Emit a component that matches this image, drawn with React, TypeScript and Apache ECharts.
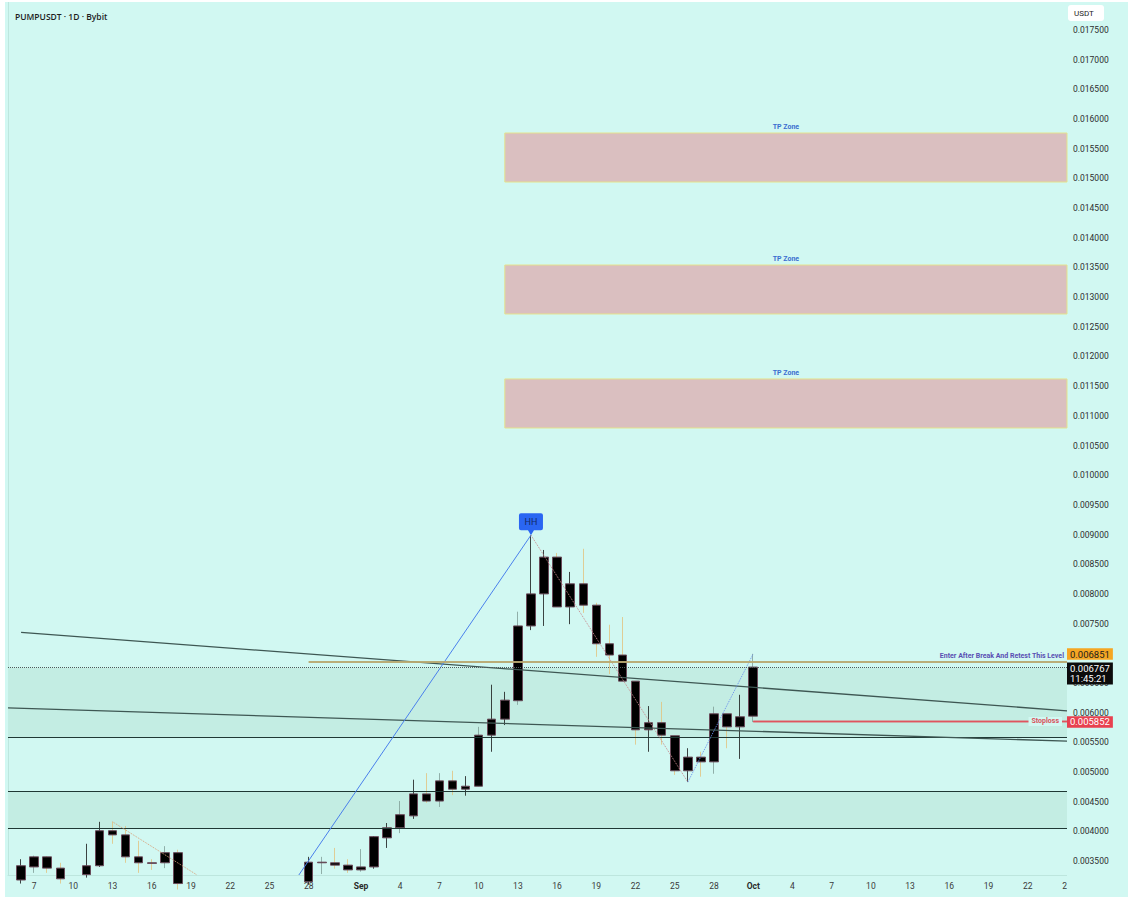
import React, { useEffect, useRef } from "react";
import * as echarts from "echarts";

// ---------- data ----------
const chartTitle = "PUMPUSDT · 1D · Bybit";
const firstDay = "2025-08-05"; // index 0
const dayCount = 58; // Aug 5 .. Oct 1

const opens = [
  0.00322, 0.00318, 0.0034, 0.00357, 0.00338, 0.0032, 0.00327, 0.00342, 0.00401, 0.00394,
  0.00357, 0.00347, 0.00347, 0.00364, 0.00312, 0.003, 0.00286, 0.00293, 0.00281, 0.00289,
  0.00279, 0.00268, 0.00276, 0.00315, 0.00348, 0.00347, 0.00343, 0.00335, 0.0034, 0.00389,
  0.00406, 0.00426, 0.00463, 0.00451, 0.00485, 0.00471, 0.00476, 0.00562, 0.00589, 0.0062,
  0.00746, 0.008, 0.00862, 0.00778, 0.00817, 0.00781, 0.00716, 0.00697, 0.00653, 0.00571,
  0.00583, 0.00561, 0.00502, 0.00525, 0.00517, 0.00598, 0.00576, 0.00594,
];
const closes = [
  0.00318, 0.00342, 0.00357, 0.00338, 0.0032, 0.00316, 0.00342, 0.00401, 0.00394, 0.00357,
  0.00347, 0.00346, 0.00364, 0.00312, 0.003, 0.00286, 0.00293, 0.00281, 0.00289, 0.00279,
  0.00268, 0.00276, 0.00315, 0.00348, 0.00347, 0.00343, 0.00335, 0.0034, 0.00391, 0.00406,
  0.00428, 0.00463, 0.00451, 0.00485, 0.00471, 0.00476, 0.00562, 0.00589, 0.00621, 0.00746,
  0.008, 0.00862, 0.00778, 0.00817, 0.00781, 0.00716, 0.00697, 0.00653, 0.00571, 0.00583,
  0.00562, 0.00502, 0.00525, 0.00517, 0.00598, 0.00576, 0.00593, 0.006767,
];
const lows = [
  0.00306, 0.00312, 0.0033, 0.0033, 0.00312, 0.003, 0.00322, 0.0034, 0.00379, 0.00347,
  0.0033, 0.00335, 0.00338, 0.00302, 0.0029, 0.00278, 0.0028, 0.00272, 0.00276, 0.0027,
  0.00254, 0.00262, 0.0027, 0.0031, 0.00328, 0.00337, 0.0033, 0.00332, 0.00337, 0.00372,
  0.00397, 0.00421, 0.00448, 0.00441, 0.00461, 0.0046, 0.00476, 0.00534, 0.00579, 0.00613,
  0.00739, 0.00746, 0.00778, 0.00749, 0.00768, 0.00694, 0.00665, 0.00653, 0.00546, 0.00534,
  0.00546, 0.00495, 0.00483, 0.00492, 0.00497, 0.0054, 0.00522, 0.00584,
];
const highs = [
  0.00342, 0.00353, 0.00359, 0.00358, 0.00347, 0.00322, 0.00379, 0.00416, 0.00416, 0.00409,
  0.00384, 0.00353, 0.00375, 0.00369, 0.00318, 0.00306, 0.00299, 0.00297, 0.00295, 0.00292,
  0.00285, 0.00282, 0.0032, 0.00357, 0.00357, 0.00372, 0.00353, 0.0037, 0.00392, 0.00414,
  0.00451, 0.00487, 0.00498, 0.00498, 0.00502, 0.00493, 0.00576, 0.00647, 0.00635, 0.0077,
  0.00899, 0.00874, 0.00869, 0.00837, 0.00876, 0.00785, 0.00748, 0.00761, 0.00653, 0.00611,
  0.00618, 0.00561, 0.0054, 0.00534, 0.0061, 0.00598, 0.0063, 0.00699,
];
// wick tone per candle: k = black, y = amber, g = grey
const wickTones = [
  "g", "k", "g", "y", "y", "y", "k", "k", "y", "y",
  "y", "y", "g", "y", "y", "y", "g", "y", "g", "y",
  "y", "g", "k", "k", "g", "y", "y", "g", "k", "k",
  "g", "k", "y", "g", "y", "k", "g", "k", "k", "g",
  "k", "k", "y", "k", "y", "y", "y", "y", "y", "k",
  "y", "y", "k", "y", "g", "y", "k", "g",
];

// x-axis tick labels (day index from Aug 5)
const tickDays = [2, 5, 8, 11, 14, 17, 20, 23, 27, 30, 33, 36, 39, 42, 45, 48, 51, 54, 57, 60, 63, 66, 69, 72, 75, 78, 81];
const tickTexts = ["7", "10", "13", "16", "19", "22", "25", "28", "Sep", "4", "7", "10", "13", "16", "19", "22", "25", "28", "Oct", "4", "7", "10", "13", "16", "19", "22", "25"];

// take-profit zones
const tpZoneStart = [38, 38, 38];
const tpZoneTop = [0.015765, 0.013541, 0.011621];
const tpZoneBottom = [0.014939, 0.012716, 0.010795];

// shaded support zones
const supportTop = [0.00675, 0.00468];
const supportBottom = [0.00559, 0.004057];
// horizontal black levels
const levels = [0.00559, 0.00468, 0.004057];

// price levels
const entryLevel = 0.006851;
const entryStartDay = 23;
const lastPrice = 0.006767;
const countdown = "11:45:21";
const stopLoss = 0.005852;
const stopStartDay = 57;

// trend lines [x1, y1, x2, y2]
const trendA = [1, 0.00735, 81, 0.00603];
const trendB = [0, 0.00608, 81, 0.00552];
const blueRay = [20, 0.00254, 40, 0.00899];
const dotAmber = [8, 0.00416, 16, 0.00305];
const dotPink = [40, 0.00899, 52, 0.00483];
const dotBlue = [52, 0.00483, 57, 0.00699];
const hhPoint = [40, 0.00899];

// ---------- layout / style ----------
const BG = "#d1f8f2";
const Y_MIN = 0.003264;
const Y_MAX = 0.017972;
const X_MIN = 0;
const X_MAX = 81;
const WICK: Record<string, string> = { k: "#141414", y: "#e2c27c", g: "#7f9c95" };
const FONT = "Roboto, 'Liberation Sans', sans-serif";
const ENTRY_STYLE = { color: "#b9a870", width: 1.5, type: "solid" };
const STOP_STYLE = { color: "#e0535e", width: 1.3, type: "solid" };

function clipSeg(seg: number[]): number[][] {
  const [x1, y1, x2, y2] = seg;
  const clipY = (xa: number, ya: number, xb: number, yb: number) => {
    if (ya < Y_MIN && yb !== ya) {
      const t = (Y_MIN - ya) / (yb - ya);
      return [xa + t * (xb - xa), Y_MIN];
    }
    return [xa, ya];
  };
  return [clipY(x1, y1, x2, y2), clipY(x2, y2, x1, y1)];
}

function segLine(seg: number[], color: string, width: number, type: string = "solid") {
  const [a, b] = clipSeg(seg);
  return [{ coord: a, lineStyle: { color, width, type } }, { coord: b }];
}

function hLine(v: number, x0: number, lineStyle: any, label?: any) {
  return [
    { coord: [x0, v], lineStyle, label: label || { show: false } },
    { coord: [X_MAX, v] },
  ];
}

function tag(text: string, bg: string, fg: string, dy: number) {
  return {
    show: true,
    position: "end",
    distance: 0,
    offset: [0, dy],
    formatter: text,
    backgroundColor: bg,
    color: fg,
    fontSize: 9.5,
    lineHeight: 10.5,
    fontFamily: FONT,
    padding: [1, 3, 0, 3],
  };
}

export default function App() {
  const ref = useRef<HTMLDivElement>(null);

  useEffect(() => {
    const el = ref.current;
    if (!el) return;
    const chart = echarts.init(el, null, { renderer: "svg" });

    const wickData = opens.map((o, i) => {
      const c = WICK[wickTones[i]];
      return {
        value: [i, o, closes[i], lows[i], highs[i]],
        itemStyle: { color: c, color0: c, borderColor: c, borderColor0: c, borderColorDoji: c },
      };
    });
    const bodyData = opens.map((o, i) => [
      i,
      o,
      closes[i],
      Math.min(o, closes[i]),
      Math.max(o, closes[i]),
    ]);

    const markAreaData: any[] = [];
    tpZoneTop.forEach((t, i) => {
      markAreaData.push([
        {
          coord: [tpZoneStart[i], t],
          itemStyle: { color: "#dabfc0", borderColor: "#e4e28e", borderWidth: 1 },
          label: {
            show: true,
            position: "top",
            distance: 2,
            formatter: "TP Zone",
            color: "#3b6fd0",
            fontSize: 7,
            fontWeight: "bold",
            fontFamily: FONT,
          },
        },
        { coord: [X_MAX, tpZoneBottom[i]] },
      ]);
    });
    supportTop.forEach((t, i) => {
      markAreaData.push([
        { coord: [X_MIN, t], itemStyle: { color: "#c3ede3" }, label: { show: false } },
        { coord: [X_MAX, supportBottom[i]] },
      ]);
    });

    const markLineData: any[] = [];
    levels.forEach((v) => {
      markLineData.push(hLine(v, X_MIN, { color: "#1f3834", width: 1, type: "solid" }));
    });
    markLineData.push(segLine(trendA, "#3e5753", 1.3));
    markLineData.push(segLine(trendB, "#3e5753", 1.3));
    markLineData.push(segLine(blueRay, "#4a80ec", 1));
    markLineData.push(segLine(dotAmber, "#d9a27a", 1, "dotted"));
    markLineData.push(segLine(dotPink, "#c98a8e", 1, "dotted"));
    markLineData.push(segLine(dotBlue, "#6a90ee", 1, "dotted"));
    // last price dotted line + tag
    markLineData.push(
      hLine(lastPrice, X_MIN, { color: "#4f5b59", width: 1, type: "dotted" },
        { ...tag(lastPrice.toFixed(6) + "\n" + countdown, "#0c0c0c", "#ffffff", 6.5), padding: [1, 3, 0, 3] })
    );
    // entry level line with caption
    markLineData.push(
      hLine(entryLevel, entryStartDay, ENTRY_STYLE, {
        show: true,
        position: "insideEndTop",
        distance: 3,
        formatter: "Enter After Break And Retest This Level",
        color: "#5a4fb2",
        fontSize: 7,
        fontWeight: "bold",
        fontFamily: FONT,
      })
    );
    // stop loss line with caption
    markLineData.push(
      hLine(stopLoss, stopStartDay, STOP_STYLE, {
        show: true,
        position: "insideEnd",
        distance: 5,
        formatter: "Stoploss",
        color: "#d9505b",
        fontSize: 7,
        fontWeight: "bold",
        fontFamily: FONT,
        backgroundColor: BG,
        padding: [1, 3, 1, 3],
      })
    );

    // price tags for entry and stop (drawn on the same lines, in the second series)
    const tagLineData: any[] = [
      hLine(entryLevel, entryStartDay, ENTRY_STYLE, tag(entryLevel.toFixed(6), "#f5a623", "#1c1c1c", -8)),
      hLine(stopLoss, stopStartDay, STOP_STYLE, tag(stopLoss.toFixed(6), "#e8414f", "#ffffff", 0.5)),
    ];

    const option: any = {
      animation: false,
      backgroundColor: BG,
      textStyle: { fontFamily: FONT },
      title: {
        text: chartTitle,
        left: 5,
        top: 5,
        textStyle: { fontSize: 8.5, fontWeight: 600, color: "#1d1d1d", fontFamily: "'Open Sans', sans-serif" },
      },
      grid: { left: 3, right: 61, top: 0, bottom: 22, containLabel: false },
      xAxis: {
        type: "value",
        min: X_MIN,
        max: X_MAX,
        interval: 1,
        z: 1,
        splitLine: { show: false },
        axisTick: { show: false },
        axisLine: { show: true, lineStyle: { color: "#bde6de", width: 1 } },
        axisLabel: {
          show: true,
          margin: 6,
          fontSize: 8.5,
          color: "#3a3a3a",
          showMinLabel: true,
          showMaxLabel: true,
          hideOverlap: false,
          formatter: (v: number) => {
            const i = tickDays.indexOf(Math.round(v));
            if (i < 0 || Math.abs(v - Math.round(v)) > 1e-6) return "";
            const t = tickTexts[i];
            return /^[A-Za-z]/.test(t) ? "{b|" + t + "}" : t;
          },
          rich: { b: { fontWeight: "bold", fontSize: 8.5, color: "#2a2a2a" } },
        },
      },
      yAxis: {
        type: "value",
        position: "right",
        min: Y_MIN,
        max: Y_MAX,
        splitNumber: 30,
        minInterval: 0.0005,
        maxInterval: 0.0005,
        scale: true,
        splitLine: { show: false },
        axisTick: { show: false },
        axisLine: { show: true, lineStyle: { color: "#bde6de", width: 1 } },
        axisLabel: {
          show: true,
          margin: 6,
          fontSize: 8.5,
          color: "#2e2e2e",
          showMinLabel: false,
          showMaxLabel: false,
          formatter: (v: number) => {
            const k = v * 2000;
            if (Math.abs(k - Math.round(k)) > 1e-6 || v > 0.01751) return "";
            return v.toFixed(6);
          },
        },
      },
      graphic: [
        {
          type: "rect",
          z: 100,
          shape: { x: 1062, y: 870, width: 61, height: 25 },
          style: { fill: BG },
          silent: true,
        },
        {
          type: "rect",
          z: 100,
          shape: { x: 1063, y: 3, width: 36, height: 16, r: 3 },
          style: { fill: "#ffffff" },
          silent: true,
        },
        {
          type: "text",
          z: 101,
          x: 1069,
          y: 11,
          style: { text: "USDT", fill: "#1d1d1d", fontSize: 8, fontFamily: FONT, verticalAlign: "middle" },
          silent: true,
        },
      ],
      series: [
        {
          name: "wicks",
          type: "candlestick",
          z: 2,
          barWidth: 1,
          clip: true,
          silent: true,
          itemStyle: { borderWidth: 0.8 },
          data: wickData,
          markArea: { silent: true, z: 1, data: markAreaData },
          markLine: {
            silent: true,
            symbol: ["none", "none"],
            label: { show: false },
            emphasis: { disabled: true },
            data: markLineData,
          },
        },
        {
          name: "bodies",
          type: "candlestick",
          z: 3,
          barWidth: 9,
          clip: true,
          silent: true,
          itemStyle: {
            color: "#000000",
            color0: "#000000",
            borderColor: "#6a4b5a",
            borderColor0: "#6a4b5a",
            borderColorDoji: "#6a4b5a",
            borderWidth: 1,
          },
          data: bodyData,
          markLine: {
            silent: true,
            symbol: ["none", "none"],
            label: { show: false },
            emphasis: { disabled: true },
            data: tagLineData,
          },
          markPoint: {
            silent: true,
            z: 6,
            symbol:
              "path://M2,0 L22,0 Q24,0 24,2 L24,15 Q24,17 22,17 L15,17 L12,22 L9,17 L2,17 Q0,17 0,15 L0,2 Q0,0 2,0 Z",
            symbolSize: [24, 22],
            symbolOffset: [0, -11],
            itemStyle: { color: "#2a66f2" },
            label: {
              show: true,
              position: "inside",
              offset: [0, -2.5],
              formatter: "HH",
              color: "#132a66",
              fontSize: 9,
              fontFamily: FONT,
            },
            data: [{ coord: hhPoint }],
          },
        },
      ],
    };

    chart.setOption(option);
    return () => chart.dispose();
  }, []);

  return (
    <div style={{ position: "fixed", left: 0, top: 0, width: 1128, height: 899, background: "#ffffff" }}>
      <div
        ref={ref}
        data-start={firstDay}
        data-days={dayCount}
        style={{ position: "absolute", left: 5, top: 2, width: 1123, height: 895 }}
      />
    </div>
  );
}
